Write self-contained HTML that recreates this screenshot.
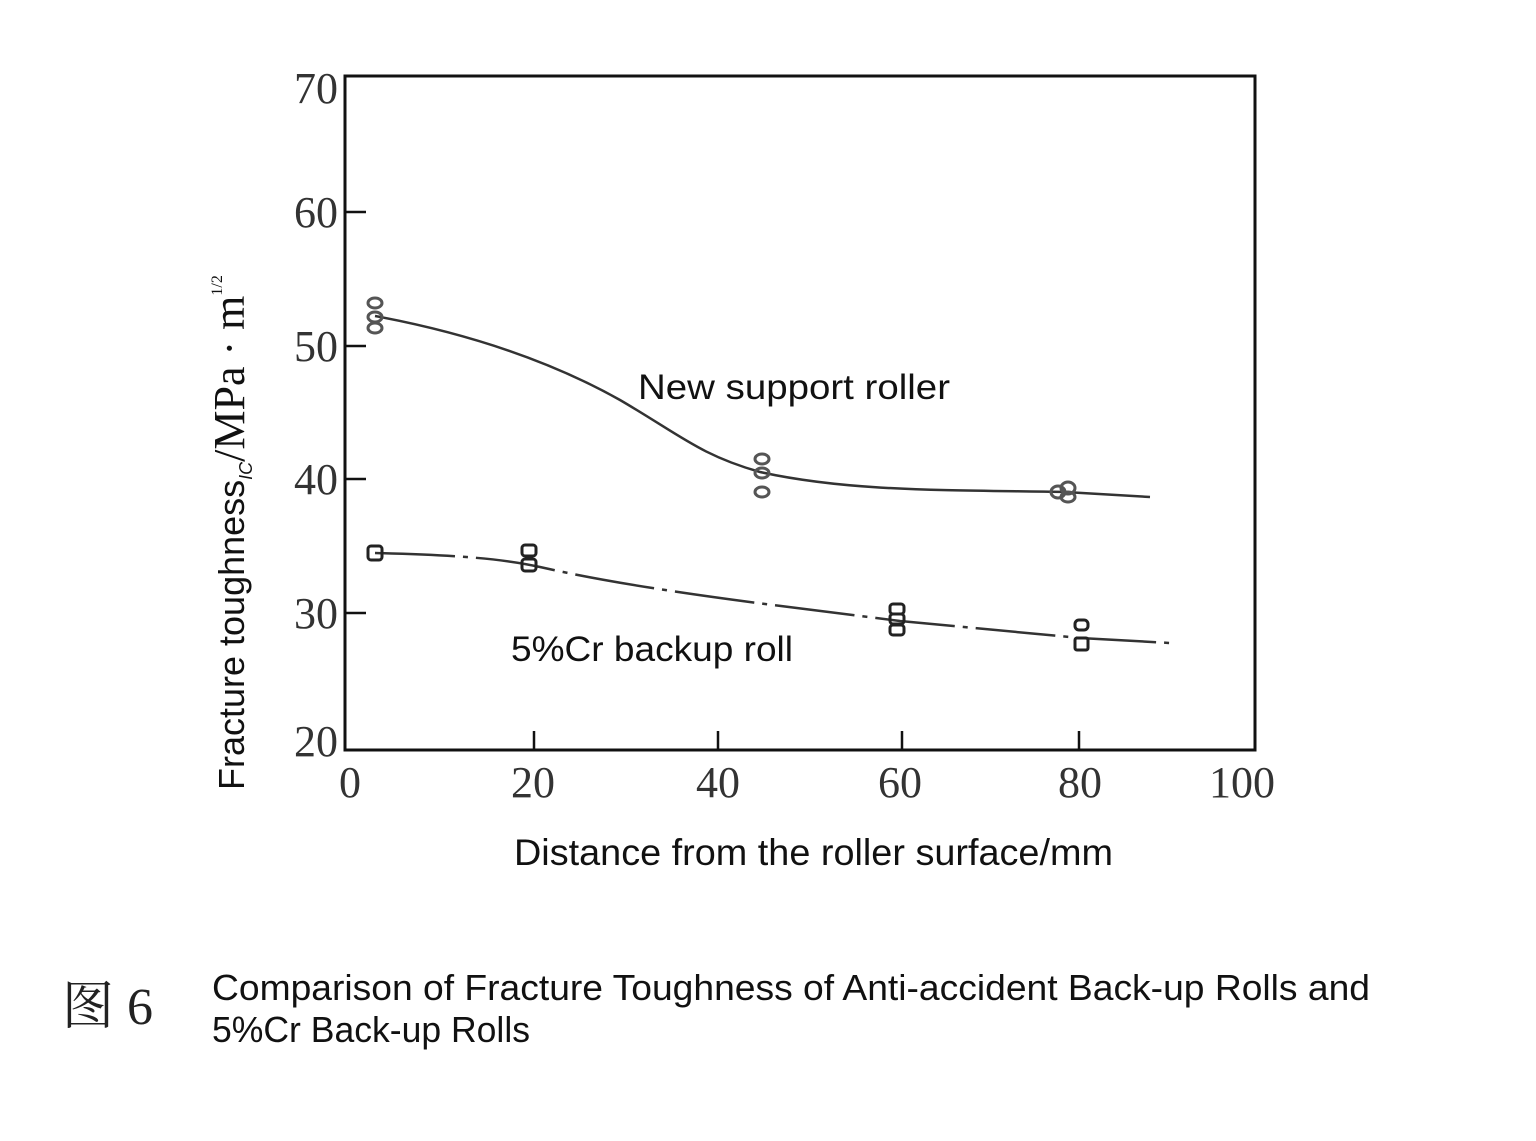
<!DOCTYPE html>
<html><head><meta charset="utf-8"><style>
body{margin:0;background:#fff}
</style></head><body>
<svg width="1536" height="1136" xmlns="http://www.w3.org/2000/svg">
<rect width="1536" height="1136" fill="#fff"/>
<rect x="345" y="76" width="910" height="674" fill="none" stroke="#111" stroke-width="3"/>
<g stroke="#111" stroke-width="2.5">
<line x1="345" y1="212" x2="366" y2="212"/><line x1="345" y1="346" x2="366" y2="346"/>
<line x1="345" y1="479" x2="366" y2="479"/><line x1="345" y1="613" x2="366" y2="613"/>
<line x1="534" y1="750" x2="534" y2="731"/><line x1="718" y1="750" x2="718" y2="731"/>
<line x1="902" y1="750" x2="902" y2="731"/><line x1="1079" y1="750" x2="1079" y2="731"/>
</g>
<g font-family="Liberation Serif, serif" font-size="44" fill="#333" text-anchor="end">
<text x="338" y="103">70</text><text x="338" y="227">60</text><text x="338" y="361">50</text>
<text x="338" y="494">40</text><text x="338" y="628">30</text><text x="338" y="756">20</text>
</g>
<g font-family="Liberation Serif, serif" font-size="44" fill="#333" text-anchor="middle">
<text x="350" y="797">0</text><text x="533" y="797">20</text><text x="718" y="797">40</text>
<text x="900" y="797">60</text><text x="1080" y="797">80</text><text x="1242" y="797">100</text>
</g>
<path d="M375,316 C450,330 540,355 620,400 C680,435 700,455 760,472 C850,492 950,490 1065,492 L1150,497" fill="none" stroke="#333" stroke-width="2.5"/>
<path d="M375,553 C450,555 500,558 540,567 C650,592 800,608 900,621 L1080,638 L1170,643" fill="none" stroke="#333" stroke-width="2.5" stroke-dasharray="80 8 5 8"/>
<g fill="none" stroke="#555" stroke-width="3">
<ellipse cx="375" cy="303" rx="7" ry="5"/><ellipse cx="375" cy="317" rx="7" ry="5"/><ellipse cx="375" cy="328" rx="7" ry="5"/>
<ellipse cx="762" cy="459" rx="7" ry="5"/><ellipse cx="762" cy="473" rx="7" ry="5"/><ellipse cx="762" cy="492" rx="7" ry="5"/>
<ellipse cx="1058" cy="492" rx="7" ry="6"/><ellipse cx="1068" cy="488" rx="7" ry="6"/><ellipse cx="1068" cy="497" rx="7" ry="5"/>
</g>
<g fill="none" stroke="#222" stroke-width="3">
<rect x="368" y="546" width="14" height="14" rx="3"/>
<rect x="522" y="545" width="14" height="11" rx="3"/><rect x="522" y="559" width="14" height="12" rx="3"/>
<rect x="890" y="604" width="14" height="10" rx="3"/><rect x="890" y="614" width="14" height="10" rx="3"/><rect x="890" y="625" width="14" height="10" rx="3"/>
<rect x="1075" y="620" width="13" height="10" rx="4"/><rect x="1075" y="638" width="13" height="12" rx="2"/>
</g>
<g font-family="Liberation Sans, sans-serif" fill="#111">
<text x="638" y="399" font-size="35" textLength="312" lengthAdjust="spacingAndGlyphs">New support roller</text>
<text x="511" y="661" font-size="35" textLength="282" lengthAdjust="spacingAndGlyphs">5%Cr backup roll</text>
<text x="514" y="865" font-size="37" textLength="599" lengthAdjust="spacingAndGlyphs">Distance from the roller surface/mm</text>
<text transform="translate(244,790) rotate(-90)" font-size="36">Fracture toughness<tspan font-size="18" font-style="italic" dy="8">IC</tspan><tspan dy="-8" font-family="Liberation Serif, serif" font-size="44">/MPa · m</tspan><tspan font-family="Liberation Serif, serif" font-size="16" dy="-22">1/2</tspan></text>
<text x="62" y="1024" font-family="Liberation Serif, 'Noto Serif CJK SC', serif" font-size="52" fill="#222">图 6</text>
<text x="212" y="1000" font-size="36" textLength="1158" lengthAdjust="spacingAndGlyphs">Comparison of Fracture Toughness of Anti-accident Back-up Rolls and</text>
<text x="212" y="1042" font-size="36" textLength="318" lengthAdjust="spacingAndGlyphs">5%Cr Back-up Rolls</text>
</g>
</svg>
</body></html>
